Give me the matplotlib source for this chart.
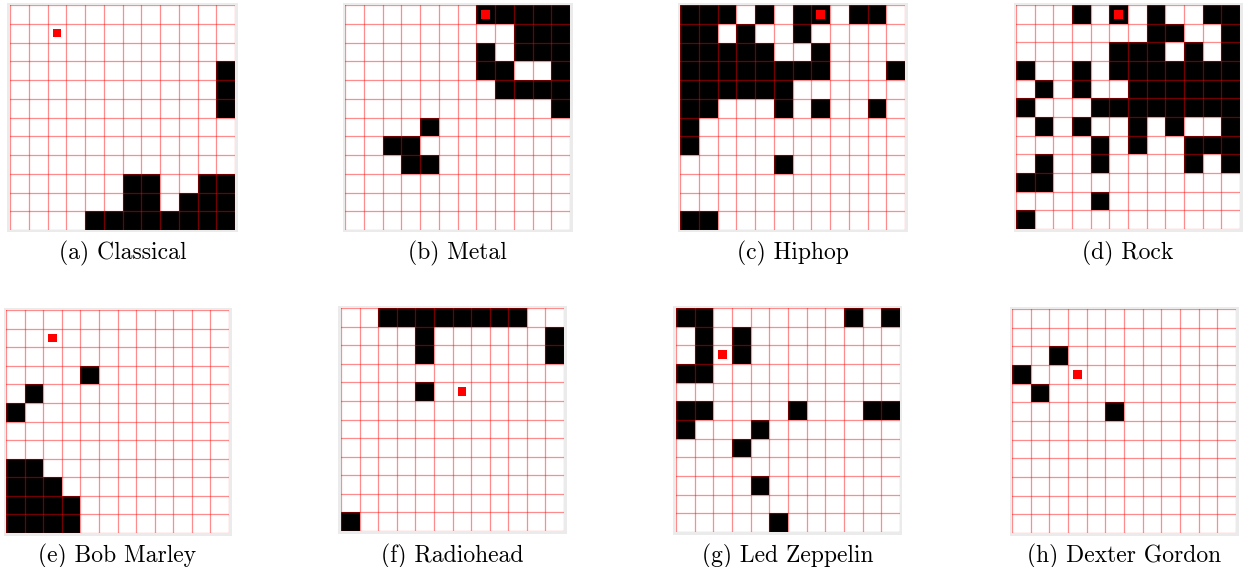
import numpy as np
import matplotlib
matplotlib.use("Agg")
import matplotlib.pyplot as plt

# =========================
# DATA (12x12 maps, '#' = black cell, read row by row from the top)
# =========================

titles = ["(a) Classical", "(b) Metal", "(c) Hiphop", "(d) Rock",
          "(e) Bob Marley", "(f) Radiohead", "(g) Led Zeppelin", "(h) Dexter Gordon"]

classical = [
    "............",
    "............",
    "............",
    "...........#",
    "...........#",
    "...........#",
    "............",
    "............",
    "............",
    "......##..##",
    "......##.###",
    "....########",
]

metal = [
    ".......#####",
    ".........###",
    ".......#.###",
    ".......##..#",
    "........####",
    "...........#",
    "....#.......",
    "..##........",
    "...##.......",
    "............",
    "............",
    "............",
]

hiphop = [
    "###.#.##.##.",
    "##.#..#.....",
    "#####..#....",
    "########...#",
    "######......",
    "##...#.#..#.",
    "#...........",
    "#...........",
    ".....#......",
    "............",
    "............",
    "##..........",
]

rock = [
    "...#.#.#..##",
    ".......##..#",
    ".....###.#.#",
    "#..#.#######",
    ".#.#..######",
    "#...########",
    ".#.#..#.#..#",
    "....#.#..###",
    ".#..#....#.#",
    "##..........",
    "....#.......",
    "#...........",
]

bob_marley = [
    "............",
    "............",
    "............",
    "....#.......",
    ".#..........",
    "#...........",
    "............",
    "............",
    "##..........",
    "###.........",
    "####........",
    "####........",
]

radiohead = [
    "..########..",
    "....#......#",
    "....#......#",
    "............",
    "....#.......",
    "............",
    "............",
    "............",
    "............",
    "............",
    "............",
    "#...........",
]

led_zeppelin = [
    "##.......#.#",
    ".#.#........",
    ".#.#........",
    "##..........",
    "............",
    "##....#...##",
    "#...#.......",
    "...#........",
    "............",
    "....#.......",
    "............",
    ".....#......",
]

dexter_gordon = [
    "............",
    "............",
    "..#.........",
    "#...........",
    ".#..........",
    ".....#......",
    "............",
    "............",
    "............",
    "............",
    "............",
    "............",
]

maps = [classical, metal, hiphop, rock, bob_marley, radiohead, led_zeppelin, dexter_gordon]

# red marker (row, col)
marker_rows = [1, 0, 0, 0, 1, 4, 2, 3]
marker_cols = [2, 7, 7, 5, 2, 6, 2, 3]

# =========================
# LAYOUT (pixels)
# =========================

W, H = 1244, 567
lefts = [10, 345, 680, 1016, 6, 341, 676, 1012]
tops = [5, 5, 5, 5, 310, 308, 308, 309]
sizes = [225, 225, 225, 224, 223, 223, 224, 224]
caption_base = [259, 259, 259, 259, 562, 562, 562, 562]

fig = plt.figure(figsize=(W / 100, H / 100), dpi=100)

for i, rows in enumerate(maps):
    grid = np.array([[1 if ch == "#" else 0 for ch in r] for r in rows])
    n = grid.shape[0]
    x0, y0, s = lefts[i], tops[i], sizes[i]

    # light gray frame behind the grid
    pad = 2.5
    bg = fig.add_axes([(x0 - pad) / W, 1 - (y0 + s + pad) / H, (s + 2 * pad) / W, (s + 2 * pad) / H])
    bg.set_facecolor("#ebebeb")
    bg.set_xticks([])
    bg.set_yticks([])
    for sp in bg.spines.values():
        sp.set_visible(False)

    ax = fig.add_axes([x0 / W, 1 - (y0 + s) / H, s / W, s / H])
    ax.pcolormesh(np.arange(n + 1), np.arange(n + 1), grid, cmap="gray_r", vmin=0, vmax=1)
    for k in range(n + 1):
        ax.axhline(k, color="red", lw=0.9, alpha=0.45)
        ax.axvline(k, color="red", lw=0.9, alpha=0.45)

    ax.scatter([marker_cols[i] + 0.5], [marker_rows[i] + 0.5], marker="s", s=38,
               color="red", edgecolors="none", zorder=5)

    ax.set_xlim(0, n)
    ax.set_ylim(n, 0)
    ax.set_xticks([])
    ax.set_yticks([])
    for sp in ax.spines.values():
        sp.set_visible(False)

    fig.text((x0 + s / 2) / W, 1 - caption_base[i] / H, titles[i],
             ha="center", va="baseline", fontsize=17, family="cmr10")

fig.savefig("out.png", dpi=100)
